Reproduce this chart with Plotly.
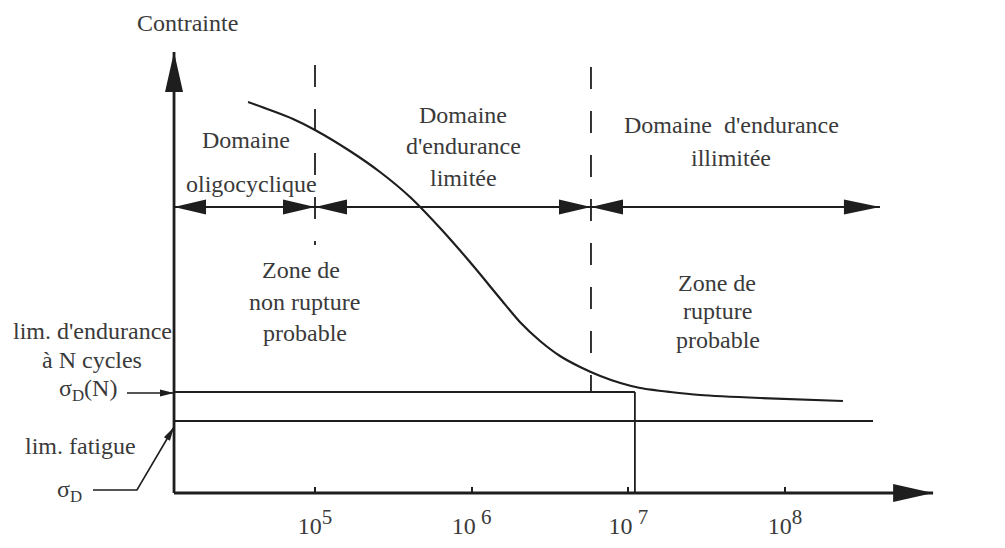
import math
import plotly.graph_objects as go

# Wöhler (S-N) diagram: stress in relative units, N in cycles
n_curve = [3.74e4, 5.16e4, 7.24e4, 1.0e5, 1.67e5, 2.60e5, 4.04e5, 6.28e5, 9.75e5,
           1.51e6, 2.03e6, 2.73e6, 3.66e6, 4.92e6, 6.62e6, 8.89e6, 1.19e7, 1.85e7,
           2.87e7, 6.92e7, 2.34e8]
s_curve = [391, 383, 374, 363, 342, 321, 296, 265, 231,
           195, 171, 152, 137, 126, 117, 110, 105, 101,
           98, 95, 92]

N_ORIGIN = 1.26e4          # where the stress axis stands
N_AXIS_END = 8.8e8         # tip of the N axis
S_AXIS_END = 441           # tip of the stress axis
N_OLIGO = 1.0e5            # oligocyclic / limited endurance boundary
N_UNLIMITED = 5.77e6       # limited / unlimited endurance boundary
N_ENDURANCE = 1.1e7        # N at which sigma_D(N) is read
N_DOMAIN_END = 4.03e8      # right end of the domain arrows
N_FATIGUE_END = 3.64e8     # right end of the fatigue limit line

SIGMA_DN = 101             # endurance limit at N cycles
SIGMA_D = 72               # fatigue limit
S_DOMAINS = 286            # height of the domain arrows
S_DASH_TOP = 428
S_DASH1_BOTTOM = 248

tick_vals = [1e5, 1e6, 1e7, 1e8]
tick_exp = ["5", " 6", " 7", "8"]

INK = "#1e1e1e"
TXT = "#3a3a3a"
FONT = "Liberation Serif"

fig = go.Figure()


def seg(xs, ys, width=1.8, dash=None):
    fig.add_trace(go.Scatter(x=xs, y=ys, mode="lines",
                             line=dict(color=INK, width=width, dash=dash),
                             hoverinfo="skip", showlegend=False))


def head(n, s, angle, length, half):
    """Filled arrowhead with its tip at (n, s); angle in degrees, 0 = right, 90 = up."""
    a = math.radians(angle)
    ux, uy = math.cos(a), math.sin(a)
    px, py = -uy, ux
    bx, by = -length * ux, -length * uy
    path = (f"M0,0 L{bx + half * px:.2f},{by + half * py:.2f} "
            f"L{bx - half * px:.2f},{by - half * py:.2f} Z")
    fig.add_shape(type="path", xref="x", yref="y", xsizemode="pixel", ysizemode="pixel",
                  xanchor=n, yanchor=s, path=path, fillcolor=INK, line=dict(width=0))


def label(text, n, s, size=24, anchor="center"):
    fig.add_annotation(x=math.log10(n), y=s, text=text, showarrow=False, xanchor=anchor,
                       font=dict(family=FONT, size=size, color=TXT))


# axes
seg([N_ORIGIN, N_AXIS_END], [0, 0], width=2.8)
seg([N_ORIGIN, N_ORIGIN], [0, S_AXIS_END], width=2.8)
head(N_AXIS_END, 0, 0, 40, 9)
head(N_ORIGIN, S_AXIS_END, 90, 40, 9)

# S-N curve
fig.add_trace(go.Scatter(x=n_curve, y=s_curve, mode="lines",
                         line=dict(color=INK, width=2.2, shape="spline", smoothing=0.8),
                         hoverinfo="skip", showlegend=False))

# endurance limit at N cycles and fatigue limit
seg([N_ORIGIN, N_ENDURANCE], [SIGMA_DN, SIGMA_DN])
seg([N_ENDURANCE, N_ENDURANCE], [0, SIGMA_DN])
seg([N_ORIGIN, N_FATIGUE_END], [SIGMA_D, SIGMA_D])

# domain boundaries
seg([N_OLIGO, N_OLIGO], [S_DASH_TOP, S_DASH1_BOTTOM], dash="22px,22px")
seg([N_UNLIMITED, N_UNLIMITED], [S_DASH_TOP - 2, SIGMA_DN], dash="22px,22px")

# domain arrows
seg([N_ORIGIN, N_DOMAIN_END], [S_DOMAINS, S_DOMAINS])
head(N_ORIGIN, S_DOMAINS, 180, 32, 7.5)
head(N_OLIGO, S_DOMAINS, 0, 32, 7.5)
head(N_OLIGO, S_DOMAINS, 180, 32, 7.5)
head(N_UNLIMITED, S_DOMAINS, 0, 32, 7.5)
head(N_UNLIMITED, S_DOMAINS, 180, 32, 7.5)
head(N_DOMAIN_END, S_DOMAINS, 0, 36, 7.5)

# leaders on the stress axis
seg([6.31e3, N_ORIGIN], [100, 100], width=1.6)
head(N_ORIGIN, 100, 0, 14, 3.5)
seg([3.83e3, 7.31e3, N_ORIGIN], [3, 3, 66], width=1.6)
head(N_ORIGIN, 66, 59.6, 14, 3.5)

# texts
label("Contrainte", 1.53e4, 470)
label("Domaine", 3.63e4, 353)
label("oligocyclique", 3.96e4, 309)
label("Domaine", 8.8e5, 378)
label("d'endurance", 8.9e5, 347)
label("limitée", 8.8e5, 315)
label("Domaine  d'endurance", 4.52e7, 368)
label("illimitée", 4.52e7, 335)
label("Zone de", 8.2e4, 223)
label("non rupture", 8.63e4, 191)
label("probable", 8.63e4, 160)
label("Zone de", 3.7e7, 210)
label("rupture", 3.73e7, 182)
label("probable", 3.73e7, 153)
label("lim. d'endurance", 3.83e3, 162)
label("à N cycles", 3.79e3, 133)
label("σ<sub>D</sub>(N)", 3.56e3, 103)
label("lim. fatigue", 3.21e3, 47)
label("σ<sub>D</sub>", 2.73e3, 2)
label("N cycles", 1.27e9, -33)

fig.update_layout(
    width=1005, height=548,
    margin=dict(l=0, r=0, t=0, b=45),
    paper_bgcolor="white", plot_bgcolor="white",
    showlegend=False,
    xaxis=dict(type="log", range=[2.9898, 9.4033], tickvals=tick_vals,
               ticktext=["10<sup><span style='font-size:21px'>%s</span></sup>" % e
                         for e in tick_exp],
               ticks="inside", ticklen=6, tickwidth=1.6, tickcolor=INK,
               showgrid=False, zeroline=False, showline=False,
               anchor="free", position=10 / 503, ticklabelstandoff=16,
               tickfont=dict(family=FONT, size=24, color=TXT)),
    yaxis=dict(range=[-10, 493], visible=False),
)

fig.write_html("out.html")
